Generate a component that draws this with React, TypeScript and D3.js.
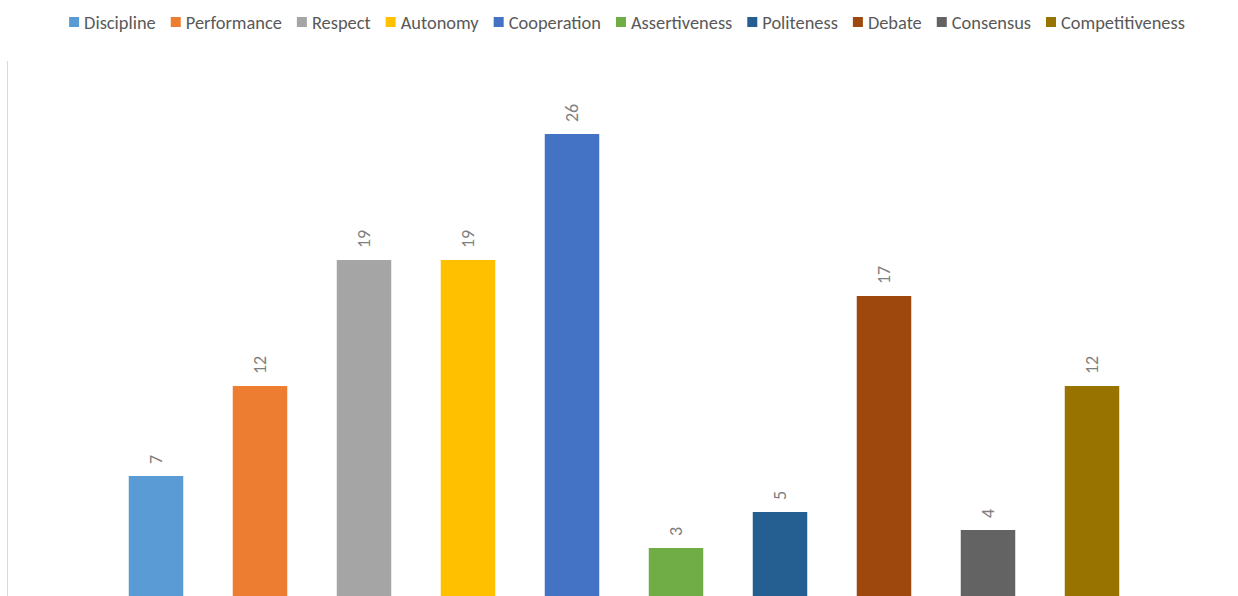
import { useEffect, useRef } from 'react'
import * as d3 from 'd3'

const categories = [
  'Discipline', 'Performance', 'Respect', 'Autonomy', 'Cooperation',
  'Assertiveness', 'Politeness', 'Debate', 'Consensus', 'Competitiveness',
]
const counts = [7, 12, 19, 19, 26, 3, 5, 17, 4, 12]
const barColors = [
  '#5B9BD5', '#ED7D31', '#A5A5A5', '#FFC000', '#4472C4',
  '#70AD47', '#255E91', '#9E480E', '#636363', '#997300',
]

const W = 1238
const H = 596
const FONT = "Carlito, Calibri, 'Liberation Sans Narrow', 'Open Sans', sans-serif"

export default function App() {
  const ref = useRef<SVGSVGElement>(null)

  useEffect(() => {
    if (!ref.current) return
    d3.select(ref.current).selectAll('*').remove()
    render(ref.current)
  }, [])

  return (
    <svg
      ref={ref}
      width={W}
      height={H}
      style={{ position: 'absolute', left: 0, top: 0, background: '#fff', display: 'block' }}
    />
  )
}

function render(el: SVGSVGElement) {
  const svg = d3.select(el).style('font-family', FONT)

  const x = d3.scaleBand().domain(categories).range([104, 1144]).paddingInner(0.476).paddingOuter(0.238)
  const y = d3.scaleLinear().domain([0, 30]).range([602, 62])

  // left border of plot
  svg.append('line')
    .attr('x1', 7.5).attr('x2', 7.5)
    .attr('y1', 61).attr('y2', H)
    .attr('stroke', '#d9d9d9').attr('stroke-width', 1)

  // bars + rotated value labels
  categories.forEach((c, i) => {
    const bx = x(c)!
    const v = counts[i]
    svg.append('rect')
      .attr('x', bx)
      .attr('y', y(v))
      .attr('width', x.bandwidth())
      .attr('height', y(0) - y(v))
      .attr('fill', barColors[i])

    svg.append('text')
      .attr('transform', `translate(${bx + x.bandwidth() / 2},${y(v) - 12}) rotate(-90)`)
      .attr('dy', '0.36em')
      .attr('text-anchor', 'start')
      .attr('font-size', 18)
      .attr('fill', '#7f7f7f')
      .text(v)
  })

  // legend, laid out from measured text widths
  const lg = svg.append('g')
  let cx = 0
  categories.forEach((c, i) => {
    const item = lg.append('g').attr('transform', `translate(${cx},0)`)
    item.append('rect')
      .attr('x', 0).attr('y', 17)
      .attr('width', 10).attr('height', 10)
      .attr('fill', barColors[i])
    const t = item.append('text')
      .attr('x', 15).attr('y', 28.5)
      .attr('font-size', 18.4)
      .attr('fill', '#595959')
      .text(c)
    const tw = (t.node() as SVGTextElement).getComputedTextLength()
    cx += 15 + tw + 15
  })
  const total = cx - 15
  lg.attr('transform', `translate(${(69 + 1185) / 2 - total / 2},0)`)
}
